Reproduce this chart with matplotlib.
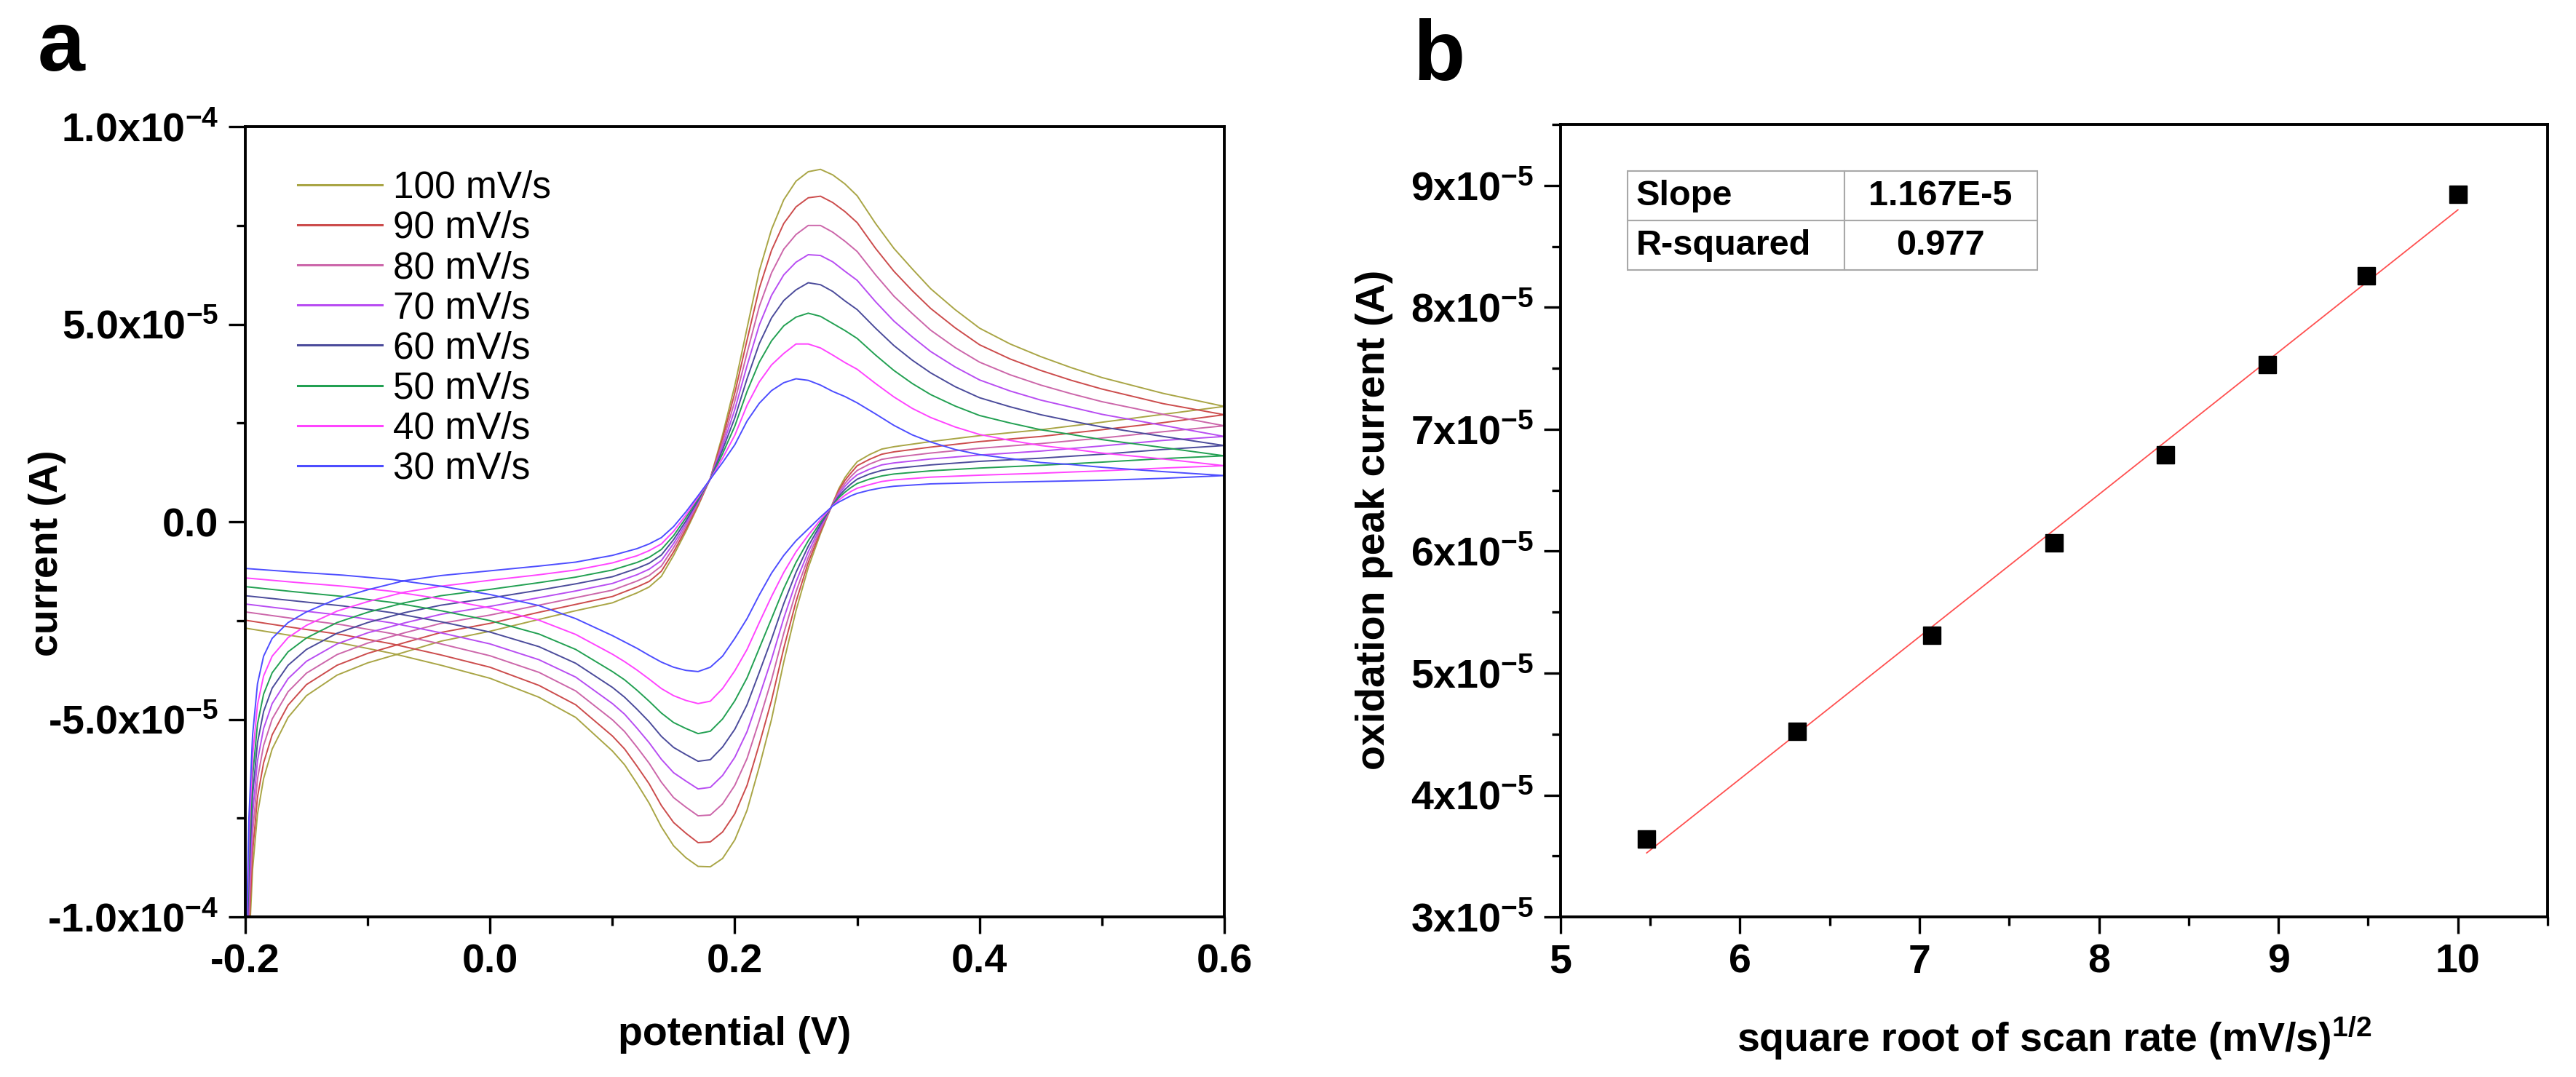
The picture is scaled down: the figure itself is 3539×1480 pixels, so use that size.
import matplotlib
matplotlib.use('Agg')
import matplotlib.pyplot as plt
from matplotlib.ticker import FixedLocator, FixedFormatter, MultipleLocator
import numpy as np

plt.rcParams['font.family'] = ['Liberation Sans', 'DejaVu Sans']
plt.rcParams['font.weight'] = 'bold'
plt.rcParams['mathtext.fontset'] = 'custom'
plt.rcParams['mathtext.rm'] = 'Liberation Sans:bold'
plt.rcParams['mathtext.bf'] = 'Liberation Sans:bold'
plt.rcParams['mathtext.default'] = 'bf'

# ---------------- data: panel a (cyclic voltammograms) ----------------
scan_rates = [100, 90, 80, 70, 60, 50, 40, 30]
legend_labels = ['100 mV/s', '90 mV/s', '80 mV/s', '70 mV/s',
                 '60 mV/s', '50 mV/s', '40 mV/s', '30 mV/s']
curve_colors = ['#A9A545', '#CC4C4C', '#CC66AA', '#B84DF2',
                '#4B4B9B', '#22A052', '#FF44FF', '#4D4DFF']

# forward (anodic) sweep, -0.2 V -> 0.6 V ; currents in units of 1e-5 A
forward_potential = [-0.200, -0.197, -0.194, -0.190, -0.185, -0.178, -0.165, -0.150,
                     -0.125, -0.100, -0.070, -0.040, 0.000, 0.040, 0.070, 0.100,
                     0.120, 0.130, 0.140, 0.150, 0.160, 0.170, 0.180, 0.190,
                     0.200, 0.210, 0.220, 0.230, 0.240, 0.250, 0.260, 0.270,
                     0.280, 0.290, 0.300, 0.315, 0.330, 0.345, 0.360, 0.380,
                     0.400, 0.425, 0.450, 0.475, 0.500, 0.550, 0.600]
forward_current = {
    100: [-12.0, -10.8, -8.8, -7.4, -6.5, -5.75, -4.95, -4.40, -3.88, -3.57, -3.30, -3.02,
          -2.77, -2.47, -2.25, -2.05, -1.80, -1.65, -1.38, -0.85, -0.25, 0.40, 1.10, 2.20,
          3.45, 4.90, 6.35, 7.40, 8.15, 8.62, 8.86, 8.92, 8.78, 8.55, 8.25, 7.55,
          6.92, 6.40, 5.90, 5.37, 4.90, 4.50, 4.18, 3.90, 3.65, 3.25, 2.92],
    90: [-12.0, -10.37, -8.36, -6.97, -6.10, -5.39, -4.64, -4.12, -3.63, -3.33, -3.06, -2.80,
         -2.57, -2.29, -2.09, -1.89, -1.65, -1.51, -1.25, -0.76, -0.19, 0.43, 1.10, 2.11,
         3.26, 4.60, 5.91, 6.87, 7.55, 7.97, 8.20, 8.24, 8.08, 7.85, 7.57, 6.92,
         6.34, 5.85, 5.40, 4.91, 4.48, 4.12, 3.83, 3.58, 3.36, 2.99, 2.71],
    80: [-12.0, -9.91, -7.88, -6.51, -5.66, -4.99, -4.30, -3.83, -3.36, -3.07, -2.81, -2.57,
         -2.36, -2.11, -1.92, -1.73, -1.50, -1.36, -1.12, -0.65, -0.12, 0.47, 1.09, 2.01,
         3.05, 4.27, 5.45, 6.30, 6.90, 7.27, 7.50, 7.50, 7.33, 7.10, 6.84, 6.25,
         5.71, 5.27, 4.85, 4.41, 4.04, 3.72, 3.46, 3.24, 3.04, 2.72, 2.43],
    70: [-12.0, -9.45, -7.41, -6.05, -5.23, -4.60, -3.97, -3.53, -3.09, -2.81, -2.56, -2.34,
         -2.14, -1.92, -1.75, -1.56, -1.34, -1.20, -0.98, -0.55, -0.05, 0.51, 1.09, 1.91,
         2.84, 3.95, 4.98, 5.73, 6.25, 6.57, 6.76, 6.74, 6.58, 6.34, 6.11, 5.57,
         5.08, 4.68, 4.31, 3.92, 3.59, 3.31, 3.08, 2.90, 2.72, 2.44, 2.16],
    60: [-12.0, -8.99, -6.93, -5.59, -4.80, -4.21, -3.63, -3.23, -2.82, -2.55, -2.30, -2.11,
         -1.93, -1.73, -1.57, -1.39, -1.18, -1.05, -0.84, -0.45, 0.02, 0.54, 1.09, 1.82,
         2.63, 3.62, 4.51, 5.16, 5.60, 5.87, 6.05, 6.00, 5.83, 5.59, 5.37, 4.90,
         4.46, 4.09, 3.77, 3.42, 3.14, 2.91, 2.71, 2.55, 2.40, 2.16, 1.93],
    50: [-12.0, -8.52, -6.45, -5.12, -4.36, -3.82, -3.29, -2.94, -2.55, -2.29, -2.05, -1.87,
         -1.71, -1.54, -1.40, -1.22, -1.03, -0.90, -0.70, -0.35, 0.10, 0.58, 1.08, 1.72,
         2.42, 3.30, 4.04, 4.58, 4.96, 5.18, 5.28, 5.20, 5.02, 4.84, 4.64, 4.22,
         3.83, 3.50, 3.22, 2.93, 2.69, 2.50, 2.33, 2.21, 2.08, 1.88, 1.67],
    40: [-12.0, -8.03, -5.94, -4.63, -3.90, -3.40, -2.93, -2.62, -2.26, -2.02, -1.78, -1.63,
         -1.48, -1.34, -1.22, -1.04, -0.86, -0.73, -0.56, -0.24, 0.17, 0.62, 1.08, 1.61,
         2.19, 2.95, 3.54, 3.97, 4.26, 4.50, 4.50, 4.40, 4.22, 4.03, 3.86, 3.50,
         3.16, 2.87, 2.64, 2.40, 2.21, 2.06, 1.93, 1.84, 1.74, 1.59, 1.42],
    30: [-12.0, -7.5, -5.4, -4.1, -3.4, -2.95, -2.55, -2.28, -1.95, -1.72, -1.49, -1.36,
         -1.24, -1.12, -1.02, -0.85, -0.68, -0.56, -0.40, -0.12, 0.25, 0.66, 1.08, 1.50,
         1.95, 2.55, 3.00, 3.32, 3.52, 3.62, 3.58, 3.46, 3.30, 3.17, 3.01, 2.73,
         2.44, 2.20, 2.02, 1.83, 1.70, 1.60, 1.50, 1.45, 1.38, 1.27, 1.17],
}

# reverse (cathodic) sweep, 0.6 V -> -0.2 V ; currents in units of 1e-5 A
reverse_potential = [0.600, 0.550, 0.500, 0.450, 0.400, 0.360, 0.330, 0.320, 0.310, 0.300,
                     0.295, 0.290, 0.285, 0.280, 0.270, 0.260, 0.250, 0.240, 0.230, 0.220,
                     0.210, 0.200, 0.190, 0.180, 0.170, 0.160, 0.150, 0.140, 0.130, 0.120,
                     0.110, 0.100, 0.070, 0.040, 0.000, -0.040, -0.080, -0.120, -0.160, -0.200]
reverse_current = {
    100: [2.92, 2.72, 2.52, 2.33, 2.18, 2.03, 1.90, 1.84, 1.70, 1.52,
          1.33, 1.12, 0.84, 0.47, -0.30, -1.16, -2.25, -3.55, -5.00, -6.20,
          -7.30, -8.05, -8.52, -8.73, -8.72, -8.50, -8.20, -7.72, -7.12, -6.62,
          -6.15, -5.80, -4.95, -4.44, -3.96, -3.63, -3.33, -3.08, -2.89, -2.69],
    90: [2.71, 2.51, 2.33, 2.16, 2.03, 1.89, 1.77, 1.71, 1.58, 1.42,
         1.24, 1.05, 0.80, 0.46, -0.25, -1.03, -2.02, -3.20, -4.52, -5.63,
         -6.67, -7.39, -7.85, -8.10, -8.12, -7.88, -7.61, -7.18, -6.63, -6.18,
         -5.75, -5.42, -4.63, -4.14, -3.68, -3.37, -3.09, -2.86, -2.68, -2.49],
    80: [2.43, 2.28, 2.12, 1.98, 1.86, 1.74, 1.63, 1.58, 1.46, 1.30,
         1.15, 0.97, 0.75, 0.45, -0.19, -0.90, -1.77, -2.82, -4.00, -5.03,
         -5.99, -6.67, -7.14, -7.42, -7.44, -7.22, -6.98, -6.59, -6.11, -5.70,
         -5.31, -5.01, -4.28, -3.81, -3.39, -3.09, -2.83, -2.61, -2.45, -2.28],
    70: [2.16, 2.06, 1.92, 1.79, 1.69, 1.59, 1.49, 1.44, 1.33, 1.19,
         1.06, 0.90, 0.70, 0.44, -0.13, -0.76, -1.52, -2.44, -3.48, -4.42,
         -5.31, -5.96, -6.42, -6.72, -6.76, -6.56, -6.35, -6.01, -5.59, -5.22,
         -4.87, -4.60, -3.93, -3.49, -3.09, -2.81, -2.56, -2.37, -2.23, -2.08],
    60: [1.93, 1.83, 1.71, 1.61, 1.53, 1.44, 1.35, 1.30, 1.21, 1.08,
         0.96, 0.82, 0.65, 0.43, -0.07, -0.62, -1.28, -2.07, -2.97, -3.81,
         -4.63, -5.25, -5.70, -6.02, -6.06, -5.89, -5.71, -5.43, -5.06, -4.74,
         -4.44, -4.19, -3.58, -3.16, -2.79, -2.53, -2.30, -2.13, -2.00, -1.87],
    50: [1.67, 1.60, 1.51, 1.43, 1.36, 1.29, 1.21, 1.16, 1.08, 0.97,
         0.87, 0.75, 0.61, 0.42, -0.01, -0.48, -1.03, -1.69, -2.45, -3.20,
         -3.95, -4.53, -4.99, -5.30, -5.36, -5.23, -5.08, -4.84, -4.54, -4.26,
         -4.00, -3.79, -3.23, -2.84, -2.50, -2.25, -2.04, -1.89, -1.77, -1.64],
    40: [1.42, 1.36, 1.29, 1.23, 1.18, 1.13, 1.06, 1.02, 0.94, 0.85,
         0.77, 0.67, 0.55, 0.41, 0.05, -0.34, -0.76, -1.28, -1.89, -2.55,
         -3.23, -3.77, -4.22, -4.54, -4.60, -4.52, -4.40, -4.22, -3.98, -3.75,
         -3.54, -3.35, -2.85, -2.49, -2.18, -1.95, -1.76, -1.63, -1.53, -1.42],
    30: [1.17, 1.10, 1.05, 1.02, 0.99, 0.96, 0.90, 0.86, 0.80, 0.72,
         0.66, 0.58, 0.50, 0.40, 0.12, -0.18, -0.48, -0.85, -1.30, -1.85,
         -2.45, -2.95, -3.40, -3.68, -3.79, -3.76, -3.68, -3.55, -3.38, -3.20,
         -3.04, -2.88, -2.45, -2.12, -1.84, -1.63, -1.46, -1.35, -1.27, -1.18],
}
current_unit = 1e-5

a_xticks = [-0.2, 0.0, 0.2, 0.4, 0.6]
a_xtick_labels = ['-0.2', '0.0', '0.2', '0.4', '0.6']
a_yticks = [-1e-4, -5e-5, 0.0, 5e-5, 1e-4]
a_ytick_labels = ['-1.0x10$^{-4}$', '-5.0x10$^{-5}$', '0.0', '5.0x10$^{-5}$', '1.0x10$^{-4}$']

# ---------------- data: panel b (peak current vs sqrt scan rate) ----------------
sqrt_scan_rate = [5.48, 6.32, 7.07, 7.75, 8.37, 8.94, 9.49, 10.0]
peak_current = [3.64e-5, 4.52e-5, 5.31e-5, 6.07e-5, 6.79e-5, 7.53e-5, 8.26e-5, 8.93e-5]
fit_slope = 1.167e-5
fit_intercept = -2.87e-5
table_cells = [['Slope', '1.167E-5'], ['R-squared', '0.977']]

b_xticks = [5, 6, 7, 8, 9, 10]
b_xtick_labels = ['5', '6', '7', '8', '9', '10']
b_yticks = [3e-5, 4e-5, 5e-5, 6e-5, 7e-5, 8e-5, 9e-5]
b_ytick_labels = ['3x10$^{-5}$', '4x10$^{-5}$', '5x10$^{-5}$', '6x10$^{-5}$',
                  '7x10$^{-5}$', '8x10$^{-5}$', '9x10$^{-5}$']

# ---------------- figure ----------------
fig = plt.figure(figsize=(35.39, 14.80), dpi=100)
ax1 = fig.add_axes([0.0952, 0.1486, 0.3801, 0.7338])
ax2 = fig.add_axes([0.6058, 0.1486, 0.3832, 0.7358])


def style_axes(ax):
    for sp in ax.spines.values():
        sp.set_linewidth(2.8)
    ax.tick_params(which='major', direction='out', length=16.5, width=2.4,
                   labelsize=40, pad=10)
    ax.tick_params(which='minor', direction='out', length=8.5, width=2.4)


# panel a
for rate, color, label in zip(scan_rates, curve_colors, legend_labels):
    pot = np.concatenate([forward_potential, reverse_potential])
    cur = np.concatenate([forward_current[rate], reverse_current[rate]]) * current_unit
    ax1.plot(pot, cur, color=color, lw=1.4, label=label, solid_joinstyle='round')

ax1.set_xlim(-0.2, 0.6)
ax1.set_ylim(-1e-4, 1e-4)
ax1.xaxis.set_major_locator(FixedLocator(a_xticks))
ax1.xaxis.set_major_formatter(FixedFormatter(a_xtick_labels))
ax1.xaxis.set_minor_locator(MultipleLocator(0.1))
ax1.yaxis.set_major_locator(FixedLocator(a_yticks))
ax1.yaxis.set_major_formatter(FixedFormatter(a_ytick_labels))
ax1.yaxis.set_minor_locator(MultipleLocator(2.5e-5))
style_axes(ax1)

ax1.set_xlabel('potential (V)', fontsize=40, fontweight='bold')
ax1.xaxis.set_label_coords(0.5, -0.162)
ax1.xaxis.label.set_va('baseline')
ax1.set_ylabel('current (A)', fontsize=40, fontweight='bold')
ax1.yaxis.set_label_coords(-0.202, 0.46)
ax1.yaxis.label.set_va('center')

leg = ax1.legend(loc='upper left', bbox_to_anchor=(0.0535, 0.945), frameon=False,
                 prop={'size': 37, 'weight': 'normal'}, handlelength=2.25,
                 handletextpad=0.31, labelspacing=0.12, borderpad=0, borderaxespad=0)
for ln in leg.get_lines():
    ln.set_linewidth(2.2)

# panel b
x_fit = np.array([min(sqrt_scan_rate), max(sqrt_scan_rate)])
ax2.plot(x_fit, fit_slope * x_fit + fit_intercept, color='#FF5050', lw=1.3)
ax2.plot(sqrt_scan_rate, peak_current, 's', color='black', ms=17.5)

ax2.set_xlim(5, 10.5)
ax2.set_ylim(3e-5, 9.5e-5)
ax2.xaxis.set_major_locator(FixedLocator(b_xticks))
ax2.xaxis.set_major_formatter(FixedFormatter(b_xtick_labels))
ax2.xaxis.set_minor_locator(MultipleLocator(0.5))
ax2.yaxis.set_major_locator(FixedLocator(b_yticks))
ax2.yaxis.set_major_formatter(FixedFormatter(b_ytick_labels))
ax2.yaxis.set_minor_locator(MultipleLocator(0.5e-5))
style_axes(ax2)

ax2.set_xlabel('square root of scan rate (mV/s)$^{1/2}$', fontsize=40, fontweight='bold')
ax2.xaxis.set_label_coords(0.5, -0.170)
ax2.xaxis.label.set_va('baseline')
ax2.set_ylabel('oxidation peak current (A)', fontsize=40, fontweight='bold')
ax2.yaxis.set_label_coords(-0.189, 0.501)
ax2.yaxis.label.set_va('center')

tbl = ax2.table(cellText=table_cells, bbox=[0.0678, 0.816, 0.415, 0.125],
                colWidths=[0.529, 0.471], cellLoc='center')
tbl.auto_set_font_size(False)
for (r, c), cell in tbl.get_celld().items():
    cell.set_edgecolor('#A8A8A8')
    cell.set_linewidth(1.5)
    cell.get_text().set_fontsize(35)
    cell.get_text().set_fontweight('bold')
    if c == 0:
        cell._loc = 'left'
        cell.PAD = 0.04
        cell.get_text().set_ha('left')

# panel letters
fig.text(52 / 3539, 1 - 97 / 1480, 'a', fontsize=84, fontweight='bold', va='baseline')
fig.text(1941 / 3539, 1 - 110 / 1480, 'b', fontsize=84, fontweight='bold', va='baseline')

fig.savefig('out.png', dpi=100)
